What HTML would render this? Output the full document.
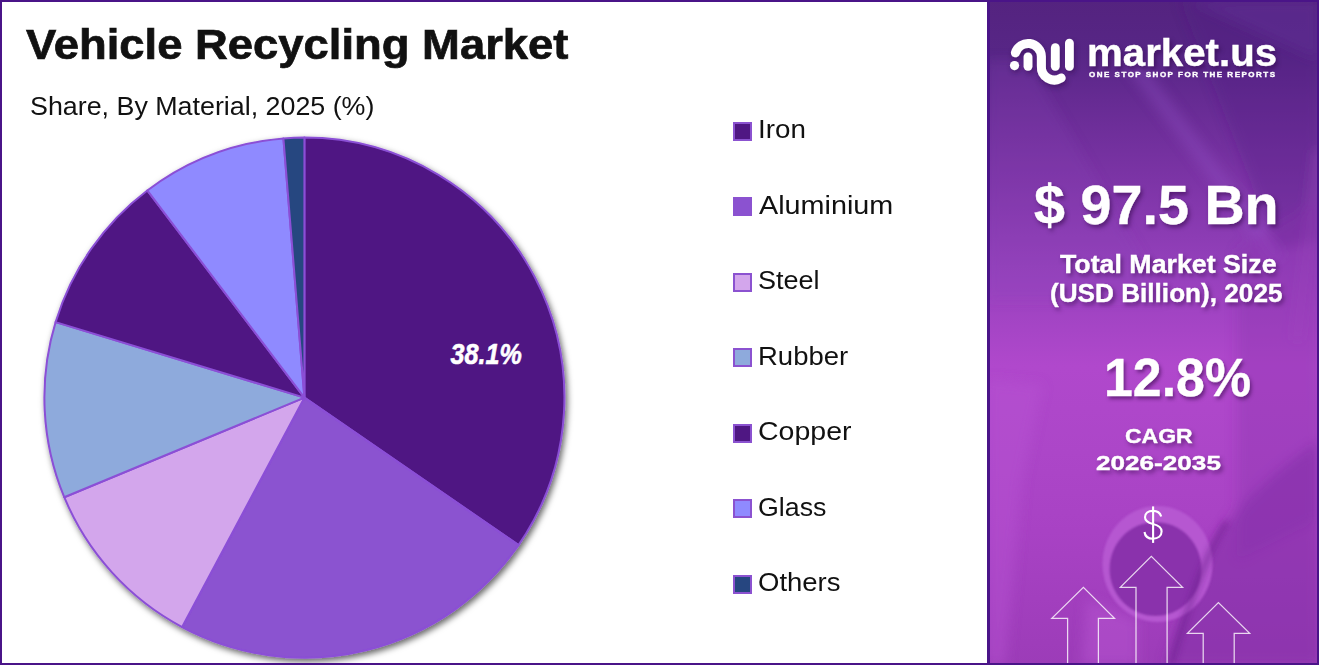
<!DOCTYPE html>
<html><head><meta charset="utf-8">
<style>
html,body{margin:0;padding:0;}
body{width:1319px;height:665px;position:relative;overflow:hidden;background:#fff;font-family:"Liberation Sans",sans-serif;}
.abs{position:absolute;white-space:nowrap;}
#frame{position:absolute;left:0;top:0;width:1319px;height:665px;box-sizing:border-box;border:2px solid #4a1488;}
#title{left:26px;top:23.5px;font-size:42.5px;-webkit-text-stroke:0.7px #111;transform:scaleX(1.068);transform-origin:0 0;font-weight:bold;color:#111;line-height:1;}
#sub{left:30px;top:93.8px;font-size:25px;transform:scaleX(1.073);transform-origin:0 0;color:#111;line-height:1;}
.lg{position:absolute;left:733px;width:19px;height:19px;box-sizing:border-box;border:2px solid #8b52d0;}
.lt{position:absolute;left:759px;font-size:25px;transform-origin:0 0;color:#111;line-height:1;white-space:nowrap;}
#panel{position:absolute;left:987px;top:0;width:332px;height:665px;overflow:hidden;box-shadow:inset 3px 0 0 #4a1488;
 background:linear-gradient(180deg,#55237f 0%,#6a2a98 25%,#9a3cc0 50%,#a640c4 70%,#8e34b0 100%);}
.w{position:absolute;color:#fff;-webkit-text-stroke:0.4px #fff;white-space:nowrap;font-weight:bold;line-height:1;text-shadow:2px 3px 4px rgba(40,0,60,0.5);}
</style></head><body>
<svg class="abs" style="left:0;top:0" width="987" height="665" viewBox="0 0 987 665">
<defs><filter id="sh" x="-10%" y="-10%" width="120%" height="120%"><feDropShadow dx="2" dy="3" stdDeviation="3" flood-color="#000" flood-opacity="0.6"/></filter><filter id="bl3" x="-50%" y="-20%" width="200%" height="140%"><feGaussianBlur stdDeviation="3"/></filter>
</defs>
<g filter="url(#sh)" stroke="#8b4fd6" stroke-width="2" stroke-linejoin="round">
<path fill="#4f1783" d="M304.4,397.6 L304.40,137.60 A260,260 0 0 1 518.52,545.09 Z"/>
<path fill="#8b52d0" d="M304.4,397.6 L518.52,545.09 A260,260 0 0 1 182.14,627.06 Z"/>
<path fill="#d3a6ec" d="M304.4,397.6 L182.14,627.06 A260,260 0 0 1 64.24,497.22 Z"/>
<path fill="#8eaadc" d="M304.4,397.6 L64.24,497.22 A260,260 0 0 1 55.60,322.10 Z"/>
<path fill="#4f1783" d="M304.4,397.6 L55.60,322.10 A260,260 0 0 1 147.28,190.45 Z"/>
<path fill="#8f8aff" d="M304.4,397.6 L147.28,190.45 A260,260 0 0 1 283.41,138.45 Z"/>
<path fill="#264680" d="M304.4,397.6 L283.41,138.45 A260,260 0 0 1 304.40,137.60 Z"/>
</g>
<text x="450.6" y="364.1" fill="#fff" font-family="Liberation Sans" font-weight="bold" font-style="italic" font-size="29.8" textLength="71.3" lengthAdjust="spacingAndGlyphs" stroke="#fff" stroke-width="0.6">38.1%</text>
</svg>
<div id="title" class="abs">Vehicle Recycling Market</div>
<div id="sub" class="abs">Share, By Material, 2025 (%)</div>

<div class="lg" style="top:122px;background:#4f1783"></div><div class="lt" style="top:117.24px;left:757.8px;transform:scaleX(1.11)">Iron</div>
<div class="lg" style="top:197px;background:#8b52d0"></div><div class="lt" style="top:192.77px;left:759.3px;transform:scaleX(1.15)">Aluminium</div>
<div class="lg" style="top:273px;background:#d3a6ec"></div><div class="lt" style="top:268.30px;left:758.2px;transform:scaleX(1.08)">Steel</div>
<div class="lg" style="top:348px;background:#8eaadc"></div><div class="lt" style="top:343.83px;left:757.8px;transform:scaleX(1.1)">Rubber</div>
<div class="lg" style="top:424px;background:#4f1783"></div><div class="lt" style="top:419.36px;left:758.2px;transform:scaleX(1.14)">Copper</div>
<div class="lg" style="top:499px;background:#8f8aff"></div><div class="lt" style="top:494.89px;left:758.2px;transform:scaleX(1.07)">Glass</div>
<div class="lg" style="top:575px;background:#264680"></div><div class="lt" style="top:570.42px;left:758.2px;transform:scaleX(1.1)">Others</div>

<div id="panel">
<svg style="position:absolute;left:0;top:0" width="332" height="665" viewBox="0 0 332 665">
<defs>
<linearGradient id="pg" x1="0" y1="0" x2="0" y2="1">
<stop offset="0" stop-color="#54237f"/>
<stop offset="0.08" stop-color="#572686"/>
<stop offset="0.15" stop-color="#662b93"/>
<stop offset="0.27" stop-color="#7c34a6"/>
<stop offset="0.4" stop-color="#9440bb"/>
<stop offset="0.55" stop-color="#b048cc"/>
<stop offset="0.68" stop-color="#ac46c8"/>
<stop offset="0.8" stop-color="#a842c4"/>
<stop offset="1" stop-color="#9c3cb8"/>
</linearGradient>
<filter id="bl" x="-20%" y="-20%" width="140%" height="140%"><feGaussianBlur stdDeviation="6"/></filter>
<filter id="bl2" x="-20%" y="-20%" width="140%" height="140%"><feGaussianBlur stdDeviation="1.3"/></filter>
</defs>
<rect width="332" height="665" fill="url(#pg)"/>
<g filter="url(#bl)">
<path d="M200,0 L332,0 L332,60 Z" fill="#6a34a0" opacity="0.5"/>
<path d="M193,0 L332,0 L332,240 L290,250 Z" fill="#4e1a80" opacity="0.3"/>
<path d="M143,60 L293,260" stroke="#9a58cc" stroke-width="16" opacity="0.3"/>
<path d="M332,150 L310,340" stroke="#b060d0" stroke-width="10" opacity="0.25"/>
<path d="M0,60 L40,60 L180,300 L0,300 Z" fill="#8a48b8" opacity="0.2"/>
<path d="M250,250 L332,200 L332,520 L250,560 Z" fill="#8a30ac" opacity="0.35"/>
<path d="M0,380 L55,385 L35,480 L18,665 L0,665 Z" fill="#b755d2" opacity="0.45"/>
<path d="M332,440 C290,470 255,500 234,532 C212,565 195,610 178,665 L332,665 Z" fill="#8230a6" opacity="0.55"/>
<path d="M100,600 L150,620 L150,665 L95,665 Z" fill="#b858d2" opacity="0.5"/>
</g>
<g filter="url(#bl2)">
<ellipse cx="170.5" cy="564" rx="55" ry="58" fill="#b658d2" opacity="0.95"/>
<ellipse cx="168.5" cy="569" rx="46" ry="47" fill="#8a32ac"/>
</g>
<path filter="url(#bl3)" d="M240,522 C218,555 200,610 184,665" stroke="#6a1e8c" stroke-width="6" fill="none" opacity="0.55"/>
</svg>
<svg style="position:absolute;left:0;top:0" width="332" height="665" viewBox="0 0 332 665">
<g transform="translate(-987,0)" fill="none" stroke="#fff" stroke-opacity="0.8" stroke-width="1.25">
<path d="M1067.6,665 V618.4 H1051.8 L1083.4,587.4 L1114.5,618.4 H1098.4 V665"/>
<path d="M1136,665 V587.4 H1120.3 L1151.3,556.3 L1182.6,587.4 H1167.1 V665"/>
<path d="M1203.2,665 V633.4 H1187.4 L1218.4,602.6 L1249.7,633.4 H1234.2 V665"/>
</g>
<g transform="translate(-987,0)" fill="none" stroke="#fff" stroke-width="2.1" stroke-linecap="butt">
<path d="M1161.2,516.5 C1160,512.5 1157,510.9 1153,510.9 C1148,510.9 1145,513.5 1145,517.3 C1145,521.5 1149,523 1153,524.1 C1158,525.3 1161.6,527 1161.6,531.6 C1161.6,536 1158,538.7 1153,538.7 C1148,538.7 1145,536 1144.5,532"/>
<path d="M1153.1,506.4 V542.9"/>
</g>
<filter id="lsh" x="-30%" y="-30%" width="160%" height="160%"><feDropShadow dx="1.5" dy="3" stdDeviation="2.5" flood-color="#2a0040" flood-opacity="0.4"/></filter>
<g filter="url(#lsh)">
<g transform="translate(-987,0)" fill="#fff">
<circle cx="1014.5" cy="65.6" r="4.6"/>
<rect x="1023.6" y="52.4" width="8.8" height="18.3" rx="4.4"/>
<rect x="1050.9" y="43.3" width="8.8" height="27.4" rx="4.4"/>
<rect x="1065" y="38.7" width="8.8" height="32" rx="4.4"/>
</g>
<g transform="translate(-987,0)" fill="none" stroke="#fff" stroke-width="9" stroke-linecap="round">
<path d="M1015.4,52.8 A13.3,13.3 0 0 1 1041.4,56.5 V66 A13,13 0 0 0 1061.2,78"/>
</g>
</g>
</svg>
<div class="w" style="left:99.5px;top:34px;font-size:38.5px;transform:scaleX(1.045);transform-origin:0 0">market.us</div>
<div class="w" style="left:102px;top:71px;font-size:8px;letter-spacing:1.5px;text-shadow:none">ONE STOP SHOP FOR THE REPORTS</div>
<div class="w" style="left:46.5px;top:177.6px;font-size:55px;transform:scaleX(1.013);transform-origin:0 0">$ 97.5 Bn</div>
<div class="w" style="left:73px;top:251.5px;font-size:25px;transform:scaleX(1.07);transform-origin:0 0">Total Market Size</div>
<div class="w" style="left:62.5px;top:281px;font-size:25px;transform:scaleX(1.046);transform-origin:0 0">(USD Billion), 2025</div>
<div class="w" style="left:116.6px;top:350px;font-size:54px;transform:scaleX(0.96);transform-origin:0 0">12.8%</div>
<div class="w" style="left:138px;top:424.5px;font-size:21px;transform:scaleX(1.095);transform-origin:0 0">CAGR</div>
<div class="w" style="left:109px;top:451.5px;font-size:21px;transform:scaleX(1.244);transform-origin:0 0">2026-2035</div>

</div>
<div style="position:absolute;left:987px;top:0;width:3px;height:665px;background:#4a1488"></div>
<div id="frame"></div>
</body></html>
